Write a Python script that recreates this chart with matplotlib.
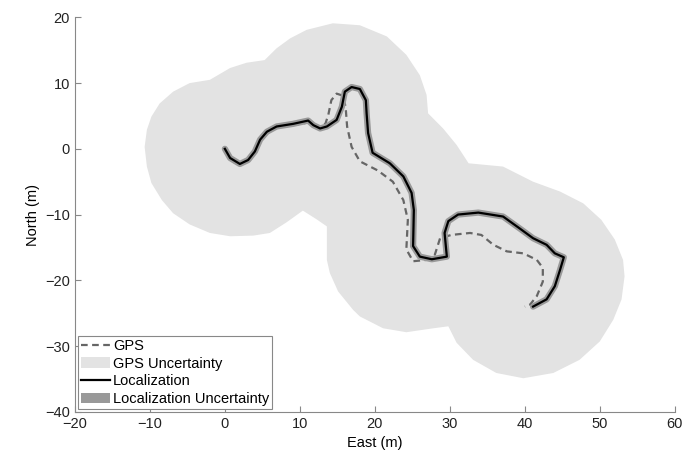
import matplotlib.pyplot as plt
from matplotlib.patches import Patch
from matplotlib.lines import Line2D

plt.rcParams['font.family'] = ['Liberation Sans', 'DejaVu Sans']

# Localization track (East, North) in metres
loc_east = [0.0, 0.7, 2.0, 3.1, 4.0, 4.7, 5.6, 6.9, 9.1, 11.1, 11.8, 12.7, 13.6,
            14.9, 15.6, 16.0, 16.9, 18.0, 18.8, 18.9, 19.1, 19.7, 22.0, 23.8,
            24.9, 25.2, 25.1, 26.0, 27.6, 29.6, 29.3, 29.8, 31.1, 33.8, 37.1,
            39.3, 41.1, 42.9, 44.0, 45.2, 44.7, 44.0, 42.9, 41.1]
loc_north = [0.0, -1.4, -2.3, -1.7, -0.4, 1.4, 2.6, 3.4, 3.8, 4.3, 3.6, 3.1, 3.4,
             4.4, 6.4, 8.7, 9.4, 9.1, 7.4, 5.4, 2.4, -0.6, -2.2, -4.2,
             -6.7, -9.3, -14.8, -16.4, -16.8, -16.4, -12.8, -11.0, -10.0, -9.7, -10.3,
             -12.1, -13.6, -14.6, -15.9, -16.5, -18.4, -20.9, -22.9, -24.0]

# GPS track
gps_east = [0.3, 1.2, 2.0, 3.1, 4.0, 4.7, 5.6, 6.9, 9.1, 11.1, 12.4, 13.4, 13.8,
            14.2, 14.9, 15.7, 16.1, 16.3, 16.9, 18.0, 20.4, 22.4, 23.8, 24.4,
            24.2, 25.1, 26.9, 28.0, 28.7, 30.2, 32.7, 34.2, 35.8, 37.6, 39.8,
            41.6, 42.4, 42.4, 41.6, 40.7, 40.0]
gps_north = [-0.6, -2.0, -2.5, -1.9, -0.6, 1.2, 2.4, 3.2, 3.6, 4.0, 3.3, 3.8, 5.2,
             7.4, 8.4, 8.1, 6.4, 3.4, 0.3, -1.9, -3.3, -5.0, -7.8, -10.8,
             -15.3, -17.1, -16.9, -16.1, -13.6, -13.1, -12.8, -13.1, -14.6, -15.6, -15.9,
             -16.9, -18.1, -20.2, -22.4, -23.7, -24.0]

# GPS uncertainty region outline
unc_east = [-10.7, -10.4, -9.8, -8.7, -6.9, -4.7, -2.0, 0.7, 2.9, 5.3, 6.9, 8.7,
            10.9, 14.4, 18.0, 21.6, 24.2, 26.0, 26.9, 27.1, 29.1, 30.9, 32.5,
            37.1, 41.1, 44.7, 47.8, 50.2, 52.0, 53.1, 53.3, 52.9, 51.8, 50.0,
            47.3, 43.8, 39.8, 36.2, 33.1, 30.9, 29.8, 27.8, 26.0, 24.2, 21.1,
            18.0, 17.1, 15.1, 14.0, 13.6, 13.6, 12.2, 10.4, 8.2, 6.0, 3.8, 0.7,
            -2.0, -4.7, -6.9, -8.4, -9.8, -10.4]
unc_north = [0.3, 2.9, 4.9, 6.9, 8.7, 10.0, 10.5, 12.3, 13.1, 13.5, 15.3, 16.8,
             18.1, 19.1, 18.8, 17.1, 14.3, 11.2, 8.2, 5.4, 3.1, 0.6, -2.2,
             -2.7, -5.0, -6.5, -8.3, -10.8, -13.8, -16.9, -19.4, -22.9, -26.0, -29.3,
             -32.1, -34.1, -34.9, -34.1, -32.1, -29.5, -27.0, -27.3, -27.6, -27.9, -27.3,
             -25.5, -24.5, -21.7, -18.9, -16.9, -11.8, -10.7, -9.4, -11.2, -12.8, -13.2, -13.3,
             -12.8, -11.5, -9.8, -7.8, -5.2, -2.7]

fig = plt.figure(figsize=(7, 4.57), dpi=100)
ax = fig.add_axes([0.107, 0.099, 0.857, 0.863])

ax.fill(unc_east, unc_north, color='#e3e3e3', lw=0, zorder=1)
ax.plot(gps_east, gps_north, color='#666666', lw=1.6, ls=(0, (3, 2)), zorder=2)
ax.plot(loc_east, loc_north, color='#999999', lw=4.5, solid_capstyle='round',
        solid_joinstyle='round', zorder=3)
ax.plot(loc_east, loc_north, color='black', lw=1.6, zorder=4)

ax.set_xlim(-20, 60)
ax.set_ylim(-40, 20)
ax.set_xticks(range(-20, 61, 10))
ax.set_yticks(range(-40, 21, 10))
ax.set_xlabel('East (m)', fontsize=10.5)
ax.set_ylabel('North (m)', fontsize=10.5)
ax.tick_params(direction='in', length=4, color='#888888', labelsize=10.5,
               labelcolor='#222222')
for s in ['top', 'right']:
    ax.spines[s].set_visible(False)
for s in ['left', 'bottom']:
    ax.spines[s].set_color('#888888')

handles = [Line2D([], [], color='#666666', lw=1.6, ls=(0, (3, 2))),
           Patch(facecolor='#e3e3e3', edgecolor='none'),
           Line2D([], [], color='black', lw=1.6),
           Patch(facecolor='#999999', edgecolor='none')]
labels = ['GPS', 'GPS Uncertainty', 'Localization', 'Localization Uncertainty']
leg = ax.legend(handles, labels, loc='lower left', fontsize=10.5, fancybox=False,
                framealpha=1, edgecolor='#888888', handlelength=2.0,
                handletextpad=0.2, labelspacing=0.25, borderpad=0.2,
                borderaxespad=0.2)
leg.get_frame().set_linewidth(0.8)

fig.savefig('out.png', dpi=100)
